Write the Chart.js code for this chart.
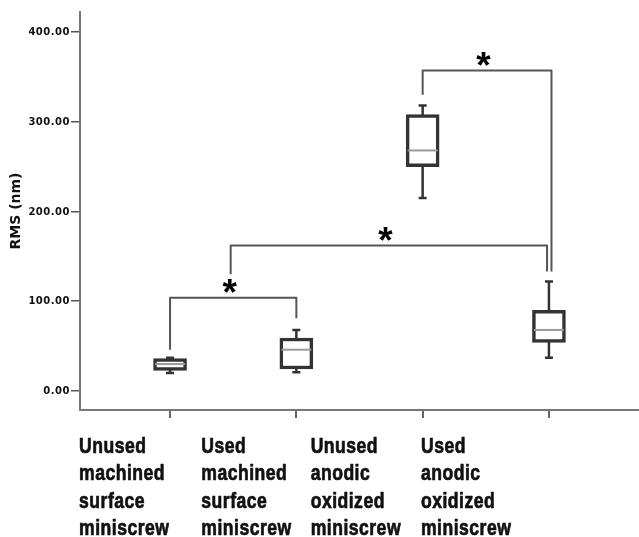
<!DOCTYPE html>
<html>
<head>
<meta charset="utf-8">
<script src="https://cdn.jsdelivr.net/npm/chart.js@4.4.0/dist/chart.umd.min.js"></script>
<style>
  html, body { margin: 0; padding: 0; background: #fff; }
  #wrap { width: 639px; height: 537px; }
</style>
</head>
<body>
<div id="wrap"><canvas id="rms-chart"></canvas></div>
<script>
// groups (x axis labels, one line per entry)
var groups = [
    ['Unused', 'machined', 'surface', 'miniscrew'],
    ['Used', 'machined', 'surface', 'miniscrew'],
    ['Unused', 'anodic', 'oxidized', 'miniscrew'],
    ['Used', 'anodic', 'oxidized', 'miniscrew']
];
// box plot values, RMS (nm)
var whiskerLow = [20, 21, 215, 37];
var q1 = [23, 24.5, 250, 54];
var median = [30, 46, 268, 68];
var q3 = [36, 59, 308, 90];
var whiskerHigh = [37, 68, 318, 122];
var yTicks = [0, 100, 200, 300, 400];

// significance brackets (x in group index, y in nm)
var bracketFrom = [0, 0.48, 2];
var bracketTo = [1, 2.985, 3.02];
var bracketY = [104, 162, 357];
var bracketFromEnd = [46, 130, 330];
var bracketToEnd = [81, 133, 133];

document.addEventListener('DOMContentLoaded', function() {
    var ctxEl = document.getElementById('rms-chart');

    var boxPlugin = {
        id: 'boxParts',
        beforeDatasetsDraw: function(chart) {
            var ctx = chart.ctx, x = chart.scales.x, y = chart.scales.y;
            ctx.save();
            ctx.strokeStyle = '#333';
            ctx.lineWidth = 2.5;
            for (var i = 0; i < groups.length; i++) {
                var cx = x.getPixelForValue(i);
                var top = y.getPixelForValue(whiskerHigh[i]);
                var bot = y.getPixelForValue(whiskerLow[i]);
                ctx.beginPath();
                ctx.moveTo(cx, top); ctx.lineTo(cx, bot);
                ctx.moveTo(cx - 4, top); ctx.lineTo(cx + 4, top);
                ctx.moveTo(cx - 4, bot); ctx.lineTo(cx + 4, bot);
                ctx.stroke();
            }
            ctx.restore();
        },
        afterDatasetsDraw: function(chart) {
            var ctx = chart.ctx, x = chart.scales.x, y = chart.scales.y;
            ctx.save();
            ctx.strokeStyle = '#9a9a9a';
            ctx.lineWidth = 2;
            for (var i = 0; i < groups.length; i++) {
                var cx = x.getPixelForValue(i);
                var my = y.getPixelForValue(median[i]);
                ctx.beginPath();
                ctx.moveTo(cx - 15, my); ctx.lineTo(cx + 15, my);
                ctx.stroke();
            }
            ctx.restore();
        },
        afterDraw: function(chart) {
            var ctx = chart.ctx, x = chart.scales.x, y = chart.scales.y;
            ctx.save();

            // brackets
            ctx.strokeStyle = '#555';
            ctx.lineWidth = 2;
            ctx.lineJoin = 'round';
            for (var b = 0; b < bracketY.length; b++) {
                var x1 = x.getPixelForValue(bracketFrom[b]);
                var x2 = x.getPixelForValue(bracketTo[b]);
                var by = y.getPixelForValue(bracketY[b]);
                ctx.beginPath();
                ctx.moveTo(x1, y.getPixelForValue(bracketFromEnd[b]));
                ctx.lineTo(x1, by);
                ctx.lineTo(x2, by);
                ctx.lineTo(x2, y.getPixelForValue(bracketToEnd[b]));
                ctx.stroke();

                ctx.fillStyle = '#000';
                ctx.font = 'bold 37px "Liberation Sans", Arial, sans-serif';
                ctx.textAlign = 'center';
                ctx.textBaseline = 'alphabetic';
                var m = ctx.measureText('*');
                var cyStar = by - 12;
                var base = cyStar + (m.actualBoundingBoxAscent - m.actualBoundingBoxDescent) / 2;
                ctx.fillText('*', (x1 + x2) / 2 - 3.5, base);
            }

            // y tick labels
            ctx.fillStyle = '#111';
            ctx.font = 'bold 10px "DejaVu Sans"';
            ctx.letterSpacing = '0.5px';
            ctx.textAlign = 'right';
            ctx.textBaseline = 'middle';
            yTicks.forEach(function(v) {
                ctx.fillText(v.toFixed(2), x.left - 10, y.getPixelForValue(v) + 0.5);
            });

            // x category labels: Liberation Sans bold squeezed to a narrow face
            ctx.letterSpacing = '0.6px';
            ctx.fillStyle = '#111';
            ctx.strokeStyle = '#111';
            ctx.lineWidth = 0.7;
            ctx.font = 'bold 22px "Liberation Sans", Arial, sans-serif';
            ctx.textAlign = 'left';
            ctx.textBaseline = 'alphabetic';
            var shift = [91, 95, 112, 128];
            var squeeze = 0.8;
            for (var i = 0; i < groups.length; i++) {
                var lx = x.getPixelForValue(i) - shift[i];
                for (var l = 0; l < groups[i].length; l++) {
                    ctx.save();
                    ctx.translate(lx, 453 + l * 27.3);
                    ctx.scale(squeeze, 1);
                    ctx.fillText(groups[i][l], 0, 0);
                    ctx.strokeText(groups[i][l], 0, 0);
                    ctx.restore();
                }
            }
            ctx.restore();
        }
    };

    new Chart(ctxEl, {
        type: 'bar',
        data: {
            datasets: [{
                label: 'RMS (nm)',
                data: groups.map(function(g, i) { return { x: i, y: [q1[i], q3[i]] }; }),
                backgroundColor: '#ffffff',
                borderColor: '#333',
                borderWidth: 3.5,
                borderSkipped: false,
                barThickness: 33
            }]
        },
        options: {
            responsive: true,
            maintainAspectRatio: false,
            animation: false,
            layout: { padding: { top: 12, left: 0, right: 0, bottom: 0 } },
            plugins: {
                legend: { display: false },
                tooltip: { enabled: false }
            },
            scales: {
                x: {
                    type: 'linear',
                    offset: false,
                    min: -0.713,
                    max: 3.713,
                    afterBuildTicks: function(scale) {
                        scale.ticks = groups.map(function(g, i) { return { value: i }; });
                    },
                    afterFit: function(scale) { scale.height = 127; },
                    grid: { offset: false, drawOnChartArea: false, tickLength: 8, color: '#666', lineWidth: 2 },
                    border: { color: '#777', width: 2 },
                    ticks: { display: false }
                },
                y: {
                    min: -21.2,
                    max: 422.3,
                    afterBuildTicks: function(scale) {
                        scale.ticks = yTicks.map(function(v) { return { value: v }; });
                    },
                    afterFit: function(scale) { scale.width = 80; },
                    grid: { drawOnChartArea: false, tickLength: 9, color: '#555', lineWidth: 1.5 },
                    border: { color: '#777', width: 2 },
                    ticks: { display: false },
                    title: {
                        display: true,
                        text: 'RMS (nm)',
                        color: '#111',
                        font: { family: 'DejaVu Sans', size: 14, weight: 'bold' },
                        padding: { top: 8, bottom: 0 }
                    }
                }
            }
        },
        plugins: [boxPlugin]
    });
});
</script>
</body>
</html>
